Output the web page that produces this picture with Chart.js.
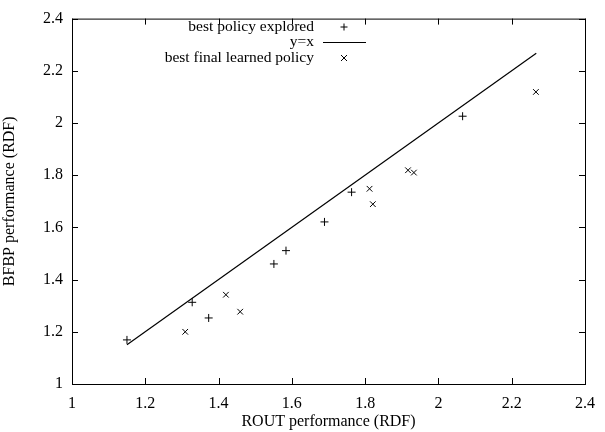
<!DOCTYPE html>
<html><head><meta charset="utf-8">
<script src="https://cdn.jsdelivr.net/npm/chart.js@4/dist/chart.umd.min.js"></script>
<style>html,body{margin:0;padding:0;background:#fff}#wrap{width:605px;height:432px}</style>
</head><body><div id="wrap"><canvas id="c" width="605" height="432"></canvas></div>
<script>
const exploredX = [1.150, 1.328, 1.373, 1.551, 1.584, 1.689, 1.763, 2.066];
const exploredY = [1.169, 1.313, 1.253, 1.460, 1.511, 1.621, 1.735, 2.026];
const learnedX = [1.309, 1.420, 1.459, 1.812, 1.821, 1.917, 1.933, 2.266];
const learnedY = [1.200, 1.342, 1.277, 1.748, 1.689, 1.819, 1.810, 2.119];
const lineX = [1.15, 2.267];
const xTicks = [1, 1.2, 1.4, 1.6, 1.8, 2, 2.2, 2.4];
const yTicks = [1, 1.2, 1.4, 1.6, 1.8, 2, 2.2, 2.4];
const legendLabels = ['best policy explored', 'y=x', 'best final learned policy'];

const FONT = '"Liberation Serif", "DejaVu Serif", serif';
const pts = (xs, ys) => xs.map((x, i) => ({x, y: ys[i]}));

const tickPlugin = {
  id: 'gnuTicks',
  afterDraw(chart) {
    const {ctx, chartArea: a, scales: {x, y}} = chart;
    ctx.save();
    ctx.strokeStyle = '#000'; ctx.lineWidth = 1;
    const L = 6;
    ctx.beginPath();
    xTicks.forEach(v => {
      const px = Math.round(x.getPixelForValue(v)) + 0.5;
      ctx.moveTo(px, a.bottom); ctx.lineTo(px, a.bottom - L);
      ctx.moveTo(px, a.top); ctx.lineTo(px, a.top + L);
    });
    yTicks.forEach(v => {
      const py = Math.round(y.getPixelForValue(v)) + 0.5;
      ctx.moveTo(a.left, py); ctx.lineTo(a.left + L, py);
      ctx.moveTo(a.right, py); ctx.lineTo(a.right - L, py);
    });
    ctx.stroke();
    ctx.strokeRect(a.left + 0.5, a.top + 0.5, a.right - a.left, a.bottom - a.top);
    // legend
    ctx.font = '15.5px ' + FONT;
    ctx.fillStyle = '#000';
    ctx.textAlign = 'right'; ctx.textBaseline = 'middle';
    const textRight = 314, sampleL = 323, sampleR = 366, sx = 344;
    const rows = [27, 42, 58];
    legendLabels.forEach((t, i) => ctx.fillText(t, textRight, rows[i]));
    ctx.beginPath();
    ctx.moveTo(sx - 3.5, rows[0]); ctx.lineTo(sx + 3.5, rows[0]);
    ctx.moveTo(sx, rows[0] - 3.5); ctx.lineTo(sx, rows[0] + 3.5);
    ctx.moveTo(sampleL, rows[1] + 0.5); ctx.lineTo(sampleR, rows[1] + 0.5);
    ctx.moveTo(sx - 3, rows[2] - 3); ctx.lineTo(sx + 3, rows[2] + 3);
    ctx.moveTo(sx - 3, rows[2] + 3); ctx.lineTo(sx + 3, rows[2] - 3);
    ctx.stroke();
    ctx.restore();
  }
};

new Chart(document.getElementById('c'), {
  type: 'scatter',
  data: {
    datasets: [
      {label: legendLabels[0], data: pts(exploredX, exploredY), pointStyle: 'cross', pointRadius: 4,
       borderColor: '#000', backgroundColor: '#000', borderWidth: 1, showLine: false},
      {label: legendLabels[1], data: pts(lineX, lineX), showLine: true, pointRadius: 0,
       borderColor: '#000', borderWidth: 1.2, fill: false},
      {label: legendLabels[2], data: pts(learnedX, learnedY), pointStyle: 'crossRot', pointRadius: 4,
       borderColor: '#000', backgroundColor: '#000', borderWidth: 1, showLine: false}
    ]
  },
  options: {
    responsive: false, animation: false, devicePixelRatio: 1,
    layout: {padding: {top: 13, right: 9, left: 0, bottom: 0}},
    plugins: {legend: {display: false}, tooltip: {enabled: false}},
    scales: {
      x: {
        type: 'linear', min: 1, max: 2.4,
        afterBuildTicks: s => { s.ticks = xTicks.map(v => ({value: v})); },
        afterFit: s => { s.height = 48; },
        grid: {display: false, drawTicks: false}, border: {display: false},
        ticks: {color: '#000', font: {family: FONT, size: 16}, padding: 10, maxRotation: 0,
                callback: v => String(Math.round(v * 10) / 10)},
        title: {display: true, text: 'ROUT performance (RDF)', color: '#000',
                font: {family: FONT, size: 16}, padding: {top: 0, bottom: 1}}
      },
      y: {
        type: 'linear', min: 1, max: 2.4,
        afterBuildTicks: s => { s.ticks = yTicks.map(v => ({value: v})); },
        afterFit: s => { s.width = 72; },
        grid: {display: false, drawTicks: false}, border: {display: false},
        ticks: {color: '#000', font: {family: FONT, size: 16}, padding: 9,
                callback: v => String(Math.round(v * 10) / 10)},
        title: {display: true, text: 'BFBP performance (RDF)', color: '#000',
                font: {family: FONT, size: 16}, padding: {top: 0, bottom: 0}}
      }
    }
  },
  plugins: [tickPlugin]
});
</script></body></html>
